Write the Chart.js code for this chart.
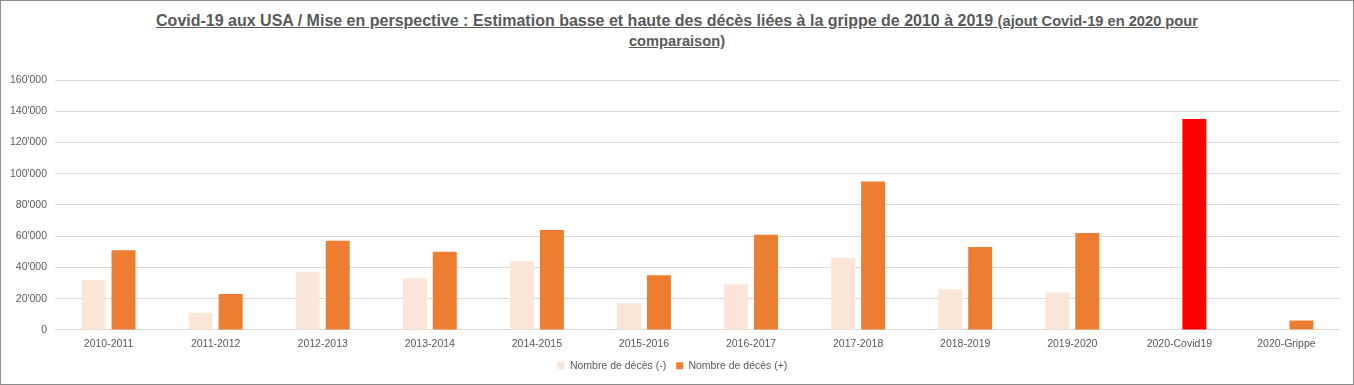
<!DOCTYPE html>
<html>
<head>
<meta charset="utf-8">
<script src="https://cdn.jsdelivr.net/npm/chart.js@4/dist/chart.umd.min.js"></script>
<style>
  html, body { margin: 0; padding: 0; background: #fff; }
  #box { position: relative; width: 1354px; height: 385px; box-sizing: border-box; border: 1px solid #8c8c8c; }
  #titre {
    position: absolute; left: 0; right: 0; top: 10px; text-align: center;
    font-family: "Liberation Sans", Arial, sans-serif; font-weight: bold; color: #595959;
    text-decoration: underline; font-size: 16px; line-height: 20px;
  }
  #titre small { font-size: 14.67px; }
  canvas { position: absolute; left: 0; top: 0; }
</style>
</head>
<body>
<div id="box">
  <div id="titre">Covid-19 aux USA / Mise en perspective : Estimation basse et haute des décès liées à la grippe de 2010 à 2019 <small>(ajout Covid-19 en 2020 pour<br>comparaison)</small></div>
  <canvas id="graph" width="1352" height="383"></canvas>
</div>
<script>
// Saisons grippales (estimations CDC) + Covid-19 2020
const categories = ['2010-2011', '2011-2012', '2012-2013', '2013-2014', '2014-2015', '2015-2016',
                    '2016-2017', '2017-2018', '2018-2019', '2019-2020', '2020-Covid19', '2020-Grippe'];
const decesBas  = [32000, 11000, 37000, 33000, 44000, 17000, 29000, 46000, 26000, 24000, null, null];
const decesHaut = [51000, 23000, 57000, 50000, 64000, 35000, 61000, 95000, 53000, 62000, 135000, 6000];
const yTicks = [0, 20000, 40000, 60000, 80000, 100000, 120000, 140000, 160000];

const gris = '#595959';
const police = { family: '"Liberation Sans", Arial, sans-serif', size: 10.5 };

document.addEventListener("DOMContentLoaded", () => {
    const graph = new Chart(document.getElementById('graph'), {
        type: 'bar',
        data: {
            labels: categories,
            datasets: [{
                label: 'Nombre de décès (-)',
                data: decesBas,
                backgroundColor: '#FBE5D6'
            }, {
                label: 'Nombre de décès (+)',
                data: decesHaut,
                backgroundColor: ctx => categories[ctx.index] === '2020-Covid19' ? '#FF0000' : '#ED7D31'
            }]
        },
        options: {
            responsive: false,
            animation: false,
            layout: { padding: { top: 79, left: 4, right: 13, bottom: 3 } },
            datasets: { bar: { categoryPercentage: 0.56, barPercentage: 0.8 } },
            plugins: {
                title: { display: false },
                tooltip: { enabled: false },
                legend: {
                    position: 'bottom',
                    labels: { boxWidth: 7, boxHeight: 7, color: gris, font: police, padding: 10 }
                }
            },
            scales: {
                x: {
                    grid: { display: false },
                    border: { display: false },
                    ticks: { color: gris, font: police, maxRotation: 0, padding: 0 }
                },
                y: {
                    min: 0, max: 160000,
                    afterBuildTicks: s => { s.ticks = yTicks.map(v => ({ value: v })); },
                    afterFit: s => { s.width = 50; },
                    grid: { color: '#D9D9D9', drawTicks: false },
                    border: { display: false },
                    ticks: {
                        color: gris, font: police, padding: 8,
                        callback: v => String(v).replace(/\B(?=(\d{3})+(?!\d))/g, "'")
                    }
                }
            }
        }
    });
});
</script>
</body>
</html>
